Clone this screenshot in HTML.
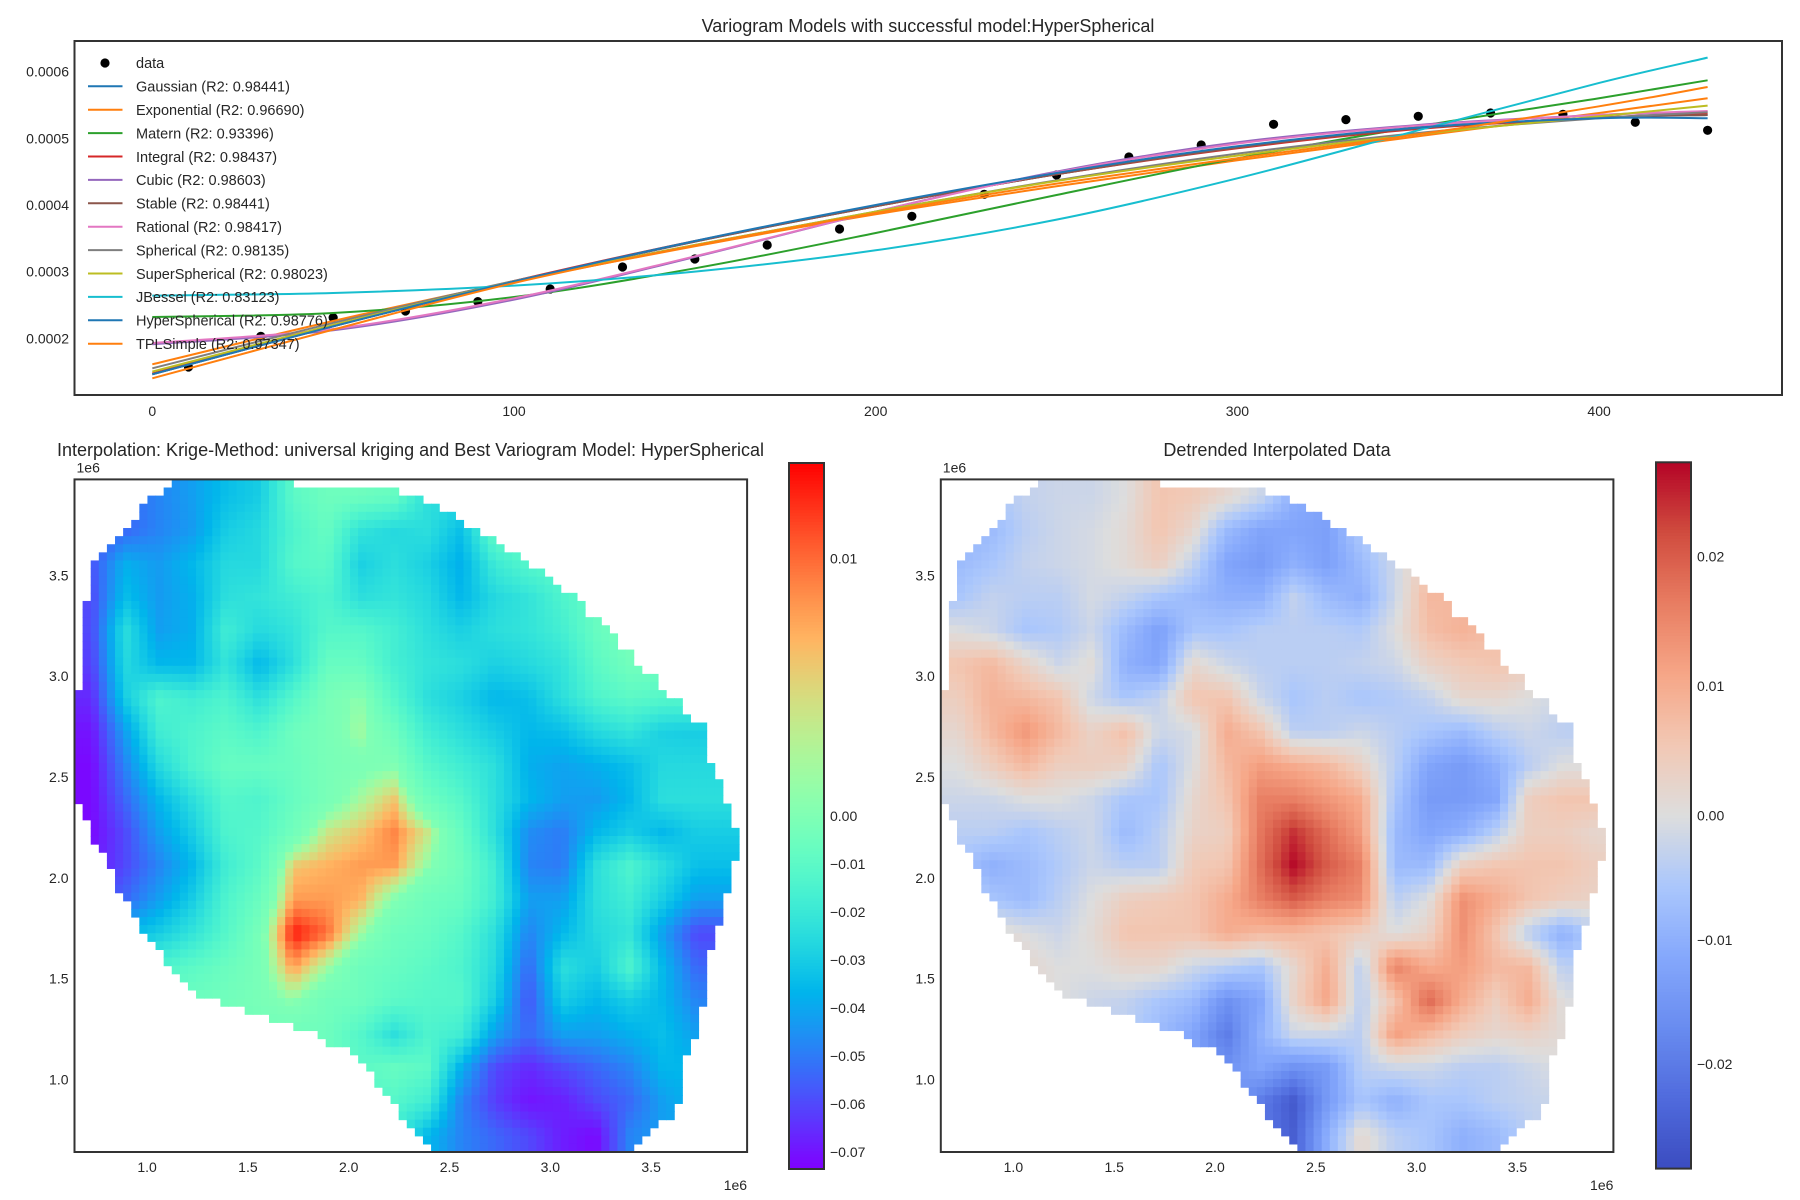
<!DOCTYPE html>
<html><head><meta charset="utf-8"><title>Variogram Models</title>
<style>
html,body{margin:0;padding:0;background:#fff;}
svg{display:block;font-family:"Liberation Sans",Arial,sans-serif;}
.tick{font-size:14px;fill:#262626;}
.ttl{font-size:18px;fill:#262626;}
.leg{font-size:14.5px;fill:#262626;}
</style></head>
<body>
<svg id="fig" width="1800" height="1200" viewBox="0 0 1800 1200" xmlns="http://www.w3.org/2000/svg">
<rect width="1800" height="1200" fill="#fff"/>
<text class="ttl" x="928" y="32" text-anchor="middle">Variogram Models with successful model:HyperSpherical</text>
<g id="topPlot"></g>
<rect x="74.5" y="41" width="1707.5" height="354" fill="none" stroke="#333" stroke-width="2"/>
<g id="legend"></g>

<text class="ttl" x="410.5" y="456" text-anchor="middle">Interpolation: Krige-Method: universal kriging and Best Variogram Model: HyperSpherical</text>
<text class="ttl" x="1277" y="456" text-anchor="middle">Detrended Interpolated Data</text>
<g id="hmL"></g>
<g id="hmR"></g>
<g id="cbL"></g>
<g id="cbR"></g>
</svg>
<script>
// ---------- Variogram data ----------
const lagX = [10,30,50,70,90,110,130,150,170,190,210,230,250,270,290,310,330,350,370,390,410,430];
const semivar = [0.000157,0.000203,0.000231,0.000241,0.000255,0.000274,0.000307,0.000319,0.00034,0.000364,0.000383,0.000416,0.000445,0.000472,0.00049,0.000521,0.000528,0.000533,0.000538,0.000536,0.000524,0.000512];
const modelX = [0,50,100,150,200,250,300,350,400,430];
const modelNames = ["Gaussian (R2: 0.98441)","Exponential (R2: 0.96690)","Matern (R2: 0.93396)","Integral (R2: 0.98437)","Cubic (R2: 0.98603)","Stable (R2: 0.98441)","Rational (R2: 0.98417)","Spherical (R2: 0.98135)","SuperSpherical (R2: 0.98023)","JBessel (R2: 0.83123)","HyperSpherical (R2: 0.98776)","TPLSimple (R2: 0.97347)"];
const gaussianY = [0.000146,0.000218,0.000285,0.000345,0.000398,0.000446,0.000486,0.000515,0.000531,0.000535];
const exponentialY = [0.000161,0.000226,0.000285,0.000338,0.000386,0.000428,0.000467,0.000503,0.000538,0.000560];
const maternY = [0.000232,0.000238,0.000262,0.000305,0.000358,0.000415,0.00047,0.000518,0.00056,0.000587];
const integralY = [0.000147,0.000219,0.000286,0.000346,0.000398,0.000446,0.000485,0.000514,0.000531,0.000537];
const cubicY = [0.000191,0.000212,0.000258,0.000322,0.00039,0.00045,0.000494,0.00052,0.000535,0.00054];
const stableY = [0.000146,0.000218,0.000285,0.000345,0.000398,0.000446,0.000486,0.000515,0.000531,0.000535];
const rationalY = [0.000193,0.000214,0.00026,0.000323,0.00039,0.000449,0.000492,0.000519,0.000535,0.000541];
const sphericalY = [0.000155,0.000223,0.000286,0.00034,0.00039,0.000437,0.000477,0.000508,0.00053,0.000539];
const superSphericalY = [0.00015,0.00022,0.000285,0.00034,0.00039,0.000436,0.000474,0.000506,0.000533,0.000549];
const jbesselY = [0.000264,0.000268,0.000279,0.0003,0.000332,0.000378,0.00044,0.000512,0.000583,0.000621];
const hyperSphericalY = [0.000146,0.000218,0.000285,0.000346,0.0004,0.000448,0.000488,0.000516,0.00053,0.00053];
const tplSimpleY = [0.00014,0.000213,0.000283,0.000339,0.000388,0.000432,0.00047,0.000506,0.000548,0.000577];
const xTicks = [0,100,200,300,400];
const yTicks = [0.0002,0.0003,0.0004,0.0005,0.0006];
const yTickLabels = ["0.0002","0.0003","0.0004","0.0005","0.0006"];

const NS="http://www.w3.org/2000/svg";
function mk(tag, attrs, parent){const e=document.createElementNS(NS,tag);for(const k in attrs)e.setAttribute(k,attrs[k]);parent.appendChild(e);return e;}
const sx = v => 152.3 + v*3.617;
const sy = v => 338.3 - (v-0.0002)*666667;

const topG = document.getElementById('topPlot');
xTicks.forEach(t=>{const e=mk('text',{x:sx(t),y:416,'text-anchor':'middle',class:'tick'},topG);e.textContent=t;

});
yTicks.forEach((t,i)=>{const e=mk('text',{x:69,y:sy(t)+5,'text-anchor':'end',class:'tick'},topG);e.textContent=yTickLabels[i];

});

lagX.forEach((x,i)=>{const c=mk('circle',{cx:sx(x),cy:sy(semivar[i]),r:4.6,fill:'#000'},topG);

});

const series=[gaussianY,exponentialY,maternY,integralY,cubicY,stableY,rationalY,sphericalY,superSphericalY,jbesselY,hyperSphericalY,tplSimpleY];
const colors=["#1f77b4","#ff7f0e","#2ca02c","#d62728","#9467bd","#8c564b","#e377c2","#7f7f7f","#bcbd22","#17becf","#1f77b4","#ff7f0e"];
function smoothPath(xs, ys){
  const P=xs.map((x,i)=>[sx(x),sy(ys[i])]);
  let d=`M${P[0][0]},${P[0][1]}`;
  for(let i=0;i<P.length-1;i++){
    const p0=P[Math.max(0,i-1)],p1=P[i],p2=P[i+1],p3=P[Math.min(P.length-1,i+2)];
    const c1=[p1[0]+(p2[0]-p0[0])/6,p1[1]+(p2[1]-p0[1])/6];
    const c2=[p2[0]-(p3[0]-p1[0])/6,p2[1]-(p3[1]-p1[1])/6];
    d+=` C${c1[0]},${c1[1]} ${c2[0]},${c2[1]} ${p2[0]},${p2[1]}`;
  }
  return d;
}
series.forEach((s,i)=>{const p=mk('path',{d:smoothPath(modelX,s),fill:'none',stroke:colors[i],'stroke-width':2},topG);

});

const leg=document.getElementById('legend');
{const c=mk('circle',{cx:105,cy:63,r:4.6,fill:'#000'},leg);


const t=mk('text',{x:136,y:68,class:'leg'},leg);t.textContent='data';

}
modelNames.forEach((n,i)=>{const y=86.3+i*23.4;
const l=mk('line',{x1:88,x2:122.5,y1:y,y2:y,stroke:colors[i],'stroke-width':2},leg);


const t=mk('text',{x:136,y:y+5.3,class:'leg'},leg);t.textContent=n;

});

// ---------- Heatmap data (20x20 coarse grid, rows top->bottom) ----------
const krigeGrid = [
[-0.06,-0.054,-0.048,-0.042,-0.034,-0.03,-0.01,-0.005,-0.005,-0.007,-0.024,-0.024,-0.024,-0.012,-0.012,-0.012,-0.012,-0.012,-0.012,-0.012],
[-0.06,-0.054,-0.048,-0.043,-0.03,-0.026,-0.014,-0.007,-0.022,-0.026,-0.024,-0.034,-0.007,-0.005,-0.005,-0.005,-0.005,-0.005,-0.005,-0.005],
[-0.058,-0.038,-0.043,-0.036,-0.026,-0.026,-0.012,-0.01,-0.029,-0.024,-0.029,-0.038,-0.019,-0.012,-0.01,-0.006,-0.006,-0.006,-0.006,-0.006],
[-0.06,-0.034,-0.043,-0.038,-0.024,-0.022,-0.018,-0.014,-0.024,-0.022,-0.026,-0.036,-0.026,-0.022,-0.014,-0.007,-0.005,-0.005,-0.005,-0.005],
[-0.06,-0.024,-0.042,-0.038,-0.018,-0.026,-0.022,-0.012,-0.012,-0.017,-0.024,-0.029,-0.024,-0.022,-0.017,-0.007,-0.002,-0.002,-0.002,-0.002],
[-0.062,-0.026,-0.036,-0.036,-0.022,-0.036,-0.024,-0.007,-0.007,-0.017,-0.022,-0.024,-0.029,-0.026,-0.022,-0.01,-0.004,-0.004,-0.004,-0.004],
[-0.066,-0.03,-0.014,-0.018,-0.014,-0.024,-0.012,-0.002,0.001,-0.012,-0.024,-0.029,-0.036,-0.034,-0.024,-0.014,-0.01,-0.012,-0.012,-0.012],
[-0.07,-0.042,-0.018,-0.014,-0.01,-0.014,-0.005,-0.002,0.002,-0.005,-0.018,-0.024,-0.03,-0.036,-0.034,-0.026,-0.022,-0.029,-0.03,-0.03],
[-0.072,-0.048,-0.026,-0.014,-0.007,-0.007,-0.006,-0.002,-0.001,0.0,-0.012,-0.018,-0.024,-0.038,-0.041,-0.038,-0.034,-0.026,-0.026,-0.026],
[-0.072,-0.054,-0.036,-0.024,-0.012,-0.014,-0.007,-0.002,0.002,0.006,-0.005,-0.012,-0.024,-0.036,-0.042,-0.043,-0.036,-0.024,-0.024,-0.024],
[-0.072,-0.06,-0.042,-0.03,-0.014,-0.012,-0.004,0.004,0.006,0.009,0.004,-0.007,-0.024,-0.046,-0.05,-0.036,-0.03,-0.036,-0.03,-0.03],
[-0.07,-0.06,-0.048,-0.036,-0.018,-0.01,0.006,0.007,0.008,0.008,0.001,-0.005,-0.018,-0.048,-0.05,-0.024,-0.014,-0.024,-0.034,-0.034],
[-0.06,-0.054,-0.042,-0.03,-0.014,-0.006,0.008,0.008,0.007,0.0,-0.005,-0.007,-0.018,-0.042,-0.042,-0.024,-0.018,-0.03,-0.042,-0.042],
[-0.048,-0.036,-0.03,-0.022,-0.012,-0.002,0.013,0.01,0.002,-0.005,-0.007,-0.012,-0.024,-0.048,-0.036,-0.026,-0.022,-0.042,-0.06,-0.06],
[-0.036,-0.024,-0.014,-0.01,-0.006,-0.002,0.008,0.002,-0.005,-0.007,-0.01,-0.014,-0.026,-0.054,-0.024,-0.03,-0.014,-0.036,-0.054,-0.054],
[-0.024,-0.012,-0.007,-0.005,-0.004,-0.002,0.001,-0.004,-0.005,-0.01,-0.012,-0.012,-0.03,-0.058,-0.03,-0.036,-0.03,-0.036,-0.048,-0.048],
[-0.012,-0.007,-0.005,-0.004,-0.004,-0.004,-0.005,-0.005,-0.012,-0.024,-0.014,-0.018,-0.042,-0.054,-0.042,-0.042,-0.038,-0.034,-0.042,-0.048],
[-0.006,-0.006,-0.005,-0.005,-0.005,-0.005,-0.006,-0.007,-0.01,-0.007,-0.01,-0.038,-0.06,-0.066,-0.06,-0.054,-0.048,-0.036,-0.036,-0.042],
[-0.006,-0.006,-0.006,-0.006,-0.006,-0.006,-0.007,-0.01,-0.012,-0.012,-0.018,-0.048,-0.062,-0.07,-0.068,-0.06,-0.054,-0.042,-0.036,-0.036],
[-0.012,-0.012,-0.012,-0.012,-0.012,-0.012,-0.012,-0.012,-0.014,-0.018,-0.036,-0.048,-0.054,-0.06,-0.068,-0.072,-0.048,-0.042,-0.042,-0.042]
];
const detrendGrid = [
[-0.008,-0.006,-0.003,-0.002,-0.002,0.0,0.006,0.005,0.002,-0.002,-0.01,-0.012,-0.008,-0.005,-0.003,-0.002,-0.002,-0.002,-0.002,-0.002],
[-0.01,-0.008,-0.004,-0.002,-0.001,0.001,0.006,0.002,-0.008,-0.012,-0.012,-0.013,-0.005,0.0,0.002,0.002,0.002,0.002,0.002,0.002],
[-0.008,-0.006,-0.003,-0.002,-0.001,0.001,0.004,-0.003,-0.012,-0.014,-0.01,-0.013,-0.008,-0.002,0.006,0.006,0.004,0.004,0.004,0.004],
[-0.006,-0.003,-0.004,-0.004,-0.001,-0.003,-0.006,-0.008,-0.01,-0.01,-0.003,-0.008,-0.01,-0.002,0.008,0.008,0.006,0.004,0.004,0.004],
[0.0,-0.002,-0.006,-0.005,-0.002,-0.008,-0.013,-0.006,-0.006,-0.004,-0.004,-0.004,-0.005,0.0,0.007,0.009,0.007,0.004,0.004,0.004],
[0.006,0.008,0.003,-0.002,0.001,-0.01,-0.012,0.002,-0.002,-0.004,-0.004,-0.004,-0.003,-0.002,0.003,0.005,0.006,0.005,0.004,0.004],
[0.004,0.009,0.008,0.006,-0.002,-0.006,-0.003,0.006,0.006,-0.002,-0.006,-0.004,-0.006,-0.005,-0.003,0.002,0.002,0.0,-0.002,-0.002],
[0.002,0.008,0.013,0.008,0.003,0.007,-0.002,-0.001,0.01,0.006,-0.004,-0.004,-0.002,-0.004,-0.006,-0.008,-0.004,-0.002,-0.004,-0.004],
[0.0,0.004,0.008,0.004,0.004,0.003,-0.006,0.0,0.008,0.012,0.01,0.008,0.003,-0.004,-0.012,-0.014,-0.01,-0.004,0.0,0.0],
[-0.002,-0.002,0.0,0.0,-0.002,-0.006,-0.006,0.002,0.006,0.016,0.016,0.013,0.01,-0.006,-0.014,-0.014,-0.012,0.004,0.006,0.006],
[-0.004,-0.004,-0.006,-0.004,-0.002,-0.008,-0.004,0.003,0.004,0.017,0.024,0.018,0.012,-0.008,-0.012,-0.01,-0.004,0.004,0.004,0.002],
[-0.006,-0.01,-0.008,-0.005,-0.002,-0.004,-0.004,0.005,0.006,0.018,0.027,0.02,0.016,-0.008,-0.008,0.004,0.006,0.006,0.006,0.004],
[-0.002,-0.006,-0.008,-0.004,0.0,0.004,0.005,0.006,0.01,0.016,0.02,0.016,0.014,-0.004,0.0,0.014,0.01,0.006,0.004,0.003],
[0.004,0.002,0.0,-0.002,0.001,0.006,0.006,0.006,0.01,0.008,0.008,0.006,0.004,0.0,0.003,0.014,0.006,-0.004,-0.01,-0.004],
[0.006,0.004,0.002,0.0,0.0,0.002,0.002,-0.002,-0.004,-0.006,0.002,0.01,-0.004,0.016,0.01,0.012,0.008,0.008,-0.004,-0.002],
[0.004,0.003,0.002,0.0,-0.002,-0.003,-0.006,-0.008,-0.016,-0.012,0.003,0.011,-0.004,0.006,0.019,0.01,0.004,0.01,0.0,-0.001],
[0.002,0.0,0.0,-0.002,-0.004,-0.004,-0.008,-0.012,-0.02,-0.01,-0.002,-0.002,-0.004,0.012,0.008,0.004,0.002,0.003,0.001,0.0],
[0.0,0.0,0.0,-0.002,-0.004,-0.006,-0.008,-0.012,-0.016,-0.012,-0.016,-0.014,-0.004,-0.002,-0.002,-0.004,-0.004,-0.002,0.0,0.0],
[0.0,0.0,0.0,-0.002,-0.004,-0.006,-0.008,-0.01,-0.012,-0.02,-0.026,-0.014,-0.006,-0.01,-0.006,-0.006,-0.004,-0.003,-0.002,0.0],
[0.0,0.0,0.0,-0.002,-0.004,-0.006,-0.008,-0.01,-0.012,-0.02,-0.025,-0.01,0.002,-0.004,-0.006,-0.01,-0.008,-0.004,-0.002,0.0]
];
// domain mask: row boundaries (in 1/1552 units of axes, offset 8/10)
const maskY = [10,30,48,68,86,105,125,143,162,180,198,216,236,254,273,292,330,350,368,405,422,440,460,480,497,516,535,553,572,610,668,705,740,757,795,815,850,870,888,908,945,963,983,1020,1040,1060,1078,1095,1115,1133,1153,1170,1190,1208,1225,1245,1265,1283,1300,1320,1340,1358,1378,1395,1415,1432,1450,1470,1490,1507,1525,1543,1562];
const maskL = [225,208,180,165,152,138,122,95,80,68,52,38,38,38,38,22,22,22,22,22,22,22,22,22,10,10,10,10,10,10,10,10,10,22,38,52,66,80,80,95,108,122,138,152,165,180,195,208,222,238,252,265,295,350,408,465,520,565,595,637,665,678,692,708,722,737,750,762,778,793,808,822,822];
const maskR = [505,762,820,848,878,905,945,975,1005,1033,1062,1088,1105,1133,1160,1190,1218,1245,1260,1290,1305,1318,1345,1362,1375,1403,1417,1433,1460,1473,1488,1502,1502,1517,1517,1532,1532,1532,1517,1517,1517,1503,1503,1503,1490,1490,1490,1475,1475,1475,1462,1462,1462,1462,1448,1448,1448,1448,1432,1432,1418,1418,1418,1418,1403,1403,1390,1390,1362,1333,1320,1290,1290];
const mapTicks = [1.0,1.5,2.0,2.5,3.0,3.5];
const mapExtent = [0.640,3.976];
const krigeTicks = [0.01,0.0,-0.01,-0.02,-0.03,-0.04,-0.05,-0.06,-0.07];
const krigeTickLabels = ["0.01","0.00","\u22120.01","\u22120.02","\u22120.03","\u22120.04","\u22120.05","\u22120.06","\u22120.07"];
const krigeRange = [-0.0735,0.0137];
const detrendTicks = [0.02,0.01,0.0,-0.01,-0.02];
const detrendTickLabels = ["0.02","0.01","0.00","\u22120.01","\u22120.02"];
const detrendRange = [-0.0284,0.0273];

function clamp(v){return Math.max(0,Math.min(1,v));}
function rainbow(t){return [clamp(Math.abs(2*t-0.5)),clamp(Math.sin(Math.PI*t)),clamp(Math.cos(Math.PI*t/2))].map(v=>Math.round(v*255));}
const cwStops=[[59,76,192],[80,107,221],[105,140,240],[133,168,252],[171,199,252],[221,221,221],[242,200,180],[246,166,135],[232,125,98],[208,76,63],[180,4,38]];
function coolwarm(t){t=clamp(t);const f=t*10,i=Math.min(9,Math.floor(f)),u=f-i;return cwStops[i].map((c,k)=>Math.round(c+(cwStops[i+1][k]-c)*u));}
function norm(v,r){return v<0?0.5*(v-r[0])/(0-r[0]):0.5+0.5*v/r[1];}
function rgb(c){return `rgb(${c[0]},${c[1]},${c[2]})`;}

function inMask(zx,zy){
  if(zy<maskY[0]||zy>1562) return false;
  let k=0; for(let i=0;i<maskY.length;i++){ if(maskY[i]<=zy) k=i; }
  return zx>=maskL[k] && zx<=maskR[k];
}
function sample(grid,fx,fy){
  const n=grid.length;
  let gx=Math.max(0,Math.min(n-1,fx*n-0.5)), gy=Math.max(0,Math.min(n-1,fy*n-0.5));
  const x0=Math.min(n-2,Math.floor(gx)), y0=Math.min(n-2,Math.floor(gy));
  const u=gx-x0, v=gy-y0;
  return grid[y0][x0]*(1-u)*(1-v)+grid[y0][x0+1]*u*(1-v)+grid[y0+1][x0]*(1-u)*v+grid[y0+1][x0+1]*u*v;
}
function drawMap(gid, grid, x0, y0, size, cmap, range){
  const g=document.getElementById(gid);
  const N=83, cs=size/N;
  for(let j=0;j<N;j++){for(let i=0;i<N;i++){
    const fx=(i+0.5)/N, fy=(j+0.5)/N;
    if(!inMask(8+fx*1552,10+fy*1552)) continue;
    const val=sample(grid,fx,fy);
    const r=mk('rect',{x:(x0+i*cs).toFixed(2),y:(y0+j*cs).toFixed(2),width:(cs+0.6).toFixed(2),height:(cs+0.6).toFixed(2),fill:rgb(cmap(norm(val,range)))},g);
    
    
  }}
  const fr=mk('rect',{x:x0,y:y0,width:size,height:size,fill:'none',stroke:'#333','stroke-width':2},g);
  
  
  const scale=size/(mapExtent[1]-mapExtent[0]);
  mapTicks.forEach(t=>{
    const px=x0+(t-mapExtent[0])*scale, py=y0+size-(t-mapExtent[0])*scale;
    const a=mk('text',{x:px,y:y0+size+20,'text-anchor':'middle',class:'tick'},g);a.textContent=t.toFixed(1);
    
    
    const b=mk('text',{x:x0-6,y:py+5,'text-anchor':'end',class:'tick'},g);b.textContent=t.toFixed(1);
    
    
  });
  const o1=mk('text',{x:x0+2,y:y0-7,class:'tick'},g);o1.textContent='1e6';
  
  
  const o2=mk('text',{x:x0+size,y:y0+size+38,'text-anchor':'end',class:'tick'},g);o2.textContent='1e6';
  
  
}
drawMap('hmL',krigeGrid,74.5,479.4,672.6,rainbow,krigeRange);
drawMap('hmR',detrendGrid,940.8,479.4,672.6,coolwarm,detrendRange);

function drawCbar(gid,x0,y0,w,h,cmap,range,ticks,labels){
  const g=document.getElementById(gid);
  const S=240;
  for(let k=0;k<S;k++){
    const t=1-(k+0.5)/S;
    const r=mk('rect',{x:x0,y:(y0+k*h/S).toFixed(2),width:w,height:(h/S+0.6).toFixed(2),fill:rgb(cmap(t))},g);
    
    
  }
  const fr=mk('rect',{x:x0,y:y0,width:w,height:h,fill:'none',stroke:'#333','stroke-width':2},g);
  
  
  ticks.forEach((v,i)=>{
    const py=y0+h*(1-norm(v,range));
    const t=mk('text',{x:x0+w+6,y:py+5,class:'tick'},g);t.textContent=labels[i];
    
    
  });
}
drawCbar('cbL',789,463,35,706,rainbow,krigeRange,krigeTicks,krigeTickLabels);
drawCbar('cbR',1656,462.3,35,706.3,coolwarm,detrendRange,detrendTicks,detrendTickLabels);
</script>
</body></html>
